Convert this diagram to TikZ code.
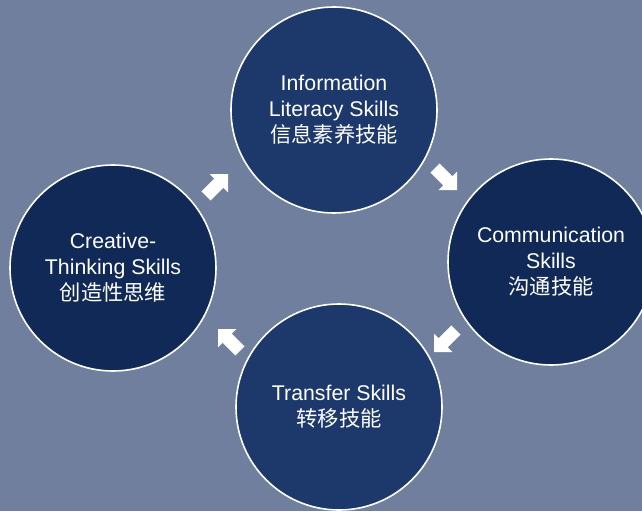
\documentclass[tikz,border=0pt]{standalone}
\usepackage{fontspec}
\setmainfont{Liberation Sans}
\newfontfamily\cjk{Noto Sans CJK SC}
\definecolor{bg}{HTML}{6F7F9D}
\definecolor{navyA}{HTML}{1D386B}
\definecolor{navyB}{HTML}{102957}
\begin{document}
\begin{tikzpicture}[x=1pt,y=-1pt,
  skill/.style={circle, draw=white, line width=1.6pt, minimum size=206pt, inner sep=0pt,
    text=white, align=center, font=\fontsize{21.3}{26}\selectfont},
  blkarrow/.pic={\fill[white] (0,0) -- (-13,13) -- (-13,6.5) -- (-31,6.5) -- (-31,-6.5) -- (-13,-6.5) -- (-13,-13) -- cycle;}]
\useasboundingbox (0,0) rectangle (642,511);
\clip (0,0) rectangle (642,511);
\fill[bg] (0,0) rectangle (642,511);
\node[skill, fill=navyA] (info) at (334,110) {Information\\Literacy Skills\\{\cjk 信息素养技能}};
\node[skill, fill=navyB] (comm) at (551,262) {Communication\\Skills\\{\cjk 沟通技能}};
\node[skill, fill=navyA] (trans) at (339,407) {Transfer Skills\\{\cjk 转移技能}};
\node[skill, fill=navyB] (creat) at (113,268) {Creative-\\Thinking Skills\\{\cjk 创造性思维}};
\pic[rotate=-45] at (457,190) {blkarrow};
\pic[rotate=-135] at (434,352) {blkarrow};
\pic[rotate=135] at (218,329) {blkarrow};
\pic[rotate=45] at (228,174) {blkarrow};
\end{tikzpicture}
\end{document}
